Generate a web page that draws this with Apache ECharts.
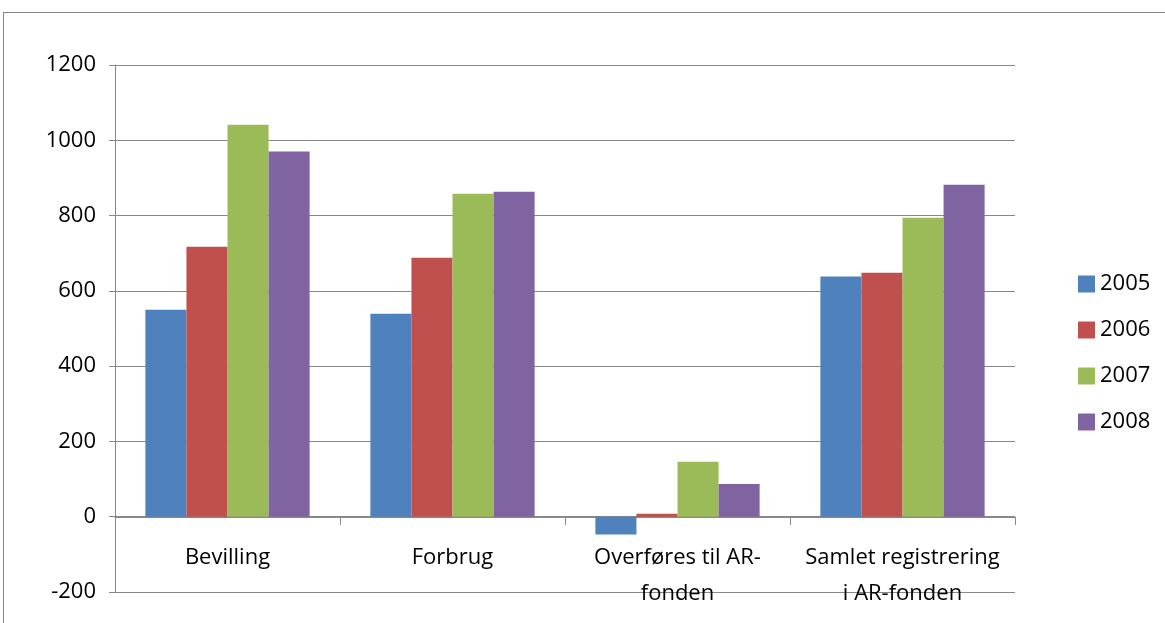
<!DOCTYPE html>
<html><head><meta charset="utf-8">
<script src="https://cdn.jsdelivr.net/npm/echarts@6/dist/echarts.min.js"></script>
<style>html,body{margin:0;padding:0;background:#fff}#c{width:1165px;height:623px}
#frame{position:absolute;left:3px;top:12px;width:1170px;height:620px;border:1px solid #888;box-sizing:border-box;pointer-events:none}</style>
</head><body><div id="c"></div><div id="frame"></div>
<script>
const categories = ['Bevilling', 'Forbrug', 'Overføres til AR-\nfonden', 'Samlet registrering\ni AR-fonden'];
const years = ['2005', '2006', '2007', '2008'];
const v2005 = [550, 539, -47, 638];
const v2006 = [717, 688, 8, 648];
const v2007 = [1041, 858, 146, 794];
const v2008 = [970, 863, 87, 882];
const yTicks = { min: -200, max: 1200, interval: 200 };
const colors = ['#4F81BD', '#C0504D', '#9BBB59', '#8064A2'];
const seriesData = [v2005, v2006, v2007, v2008];
const FONT = 'Open Sans';
const chart = echarts.init(document.getElementById('c'));
chart.setOption({
  animation: false,
  textStyle: { fontFamily: FONT },
  grid: { left: 115, right: 150, top: 65, bottom: 31, containLabel: false, outerBoundsMode: 'none' },
  legend: {
    orient: 'vertical', left: 1073, top: 268, itemWidth: 17, itemHeight: 17, itemGap: 24,
    icon: 'rect', textStyle: { fontSize: 22, color: '#000', fontFamily: FONT },
    data: years
  },
  xAxis: {
    type: 'category', data: categories, position: 'bottom', offset: -75,
    axisLine: { onZero: false, lineStyle: { color: '#888' } },
    axisTick: { show: true, length: 8, lineStyle: { color: '#888' } },
    axisLabel: { interval: 0, hideOverlap: false, fontSize: 22, color: '#000', lineHeight: 36, margin: 23, fontFamily: FONT }
  },
  yAxis: {
    type: 'value', min: yTicks.min, max: yTicks.max, interval: yTicks.interval,
    axisLine: { show: true, lineStyle: { color: '#888' } },
    axisTick: { show: true, length: 6, lineStyle: { color: '#888' } },
    splitLine: { lineStyle: { color: '#888' } },
    axisLabel: { fontSize: 22, color: '#000', margin: 19, fontFamily: FONT, formatter: v => String(v) }
  },
  series: years.map((y, i) => ({
    name: y, type: 'bar', data: seriesData[i], barGap: '0%', barCategoryGap: '27%',
    itemStyle: { color: colors[i] }
  }))
});
</script></body></html>
